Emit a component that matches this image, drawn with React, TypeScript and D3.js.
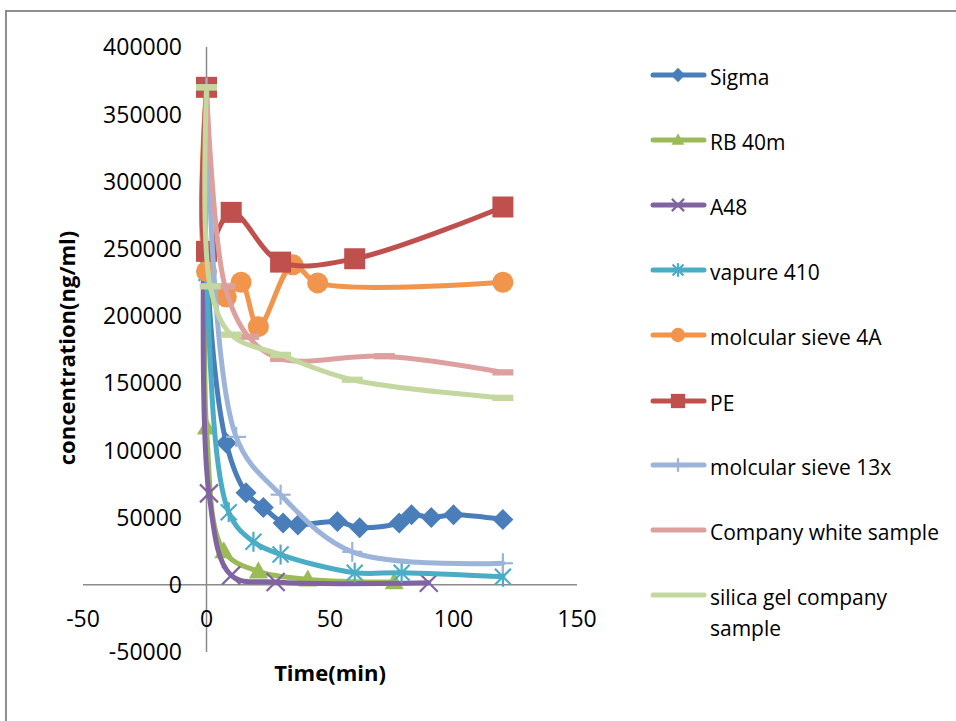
import React from "react";
import * as d3 from "d3";

// Sample names shown in the legend, in drawing order
const seriesNames = [
  "Sigma",
  "RB 40m",
  "A48",
  "vapure 410",
  "molcular sieve 4A",
  "PE",
  "molcular sieve 13x",
  "Company white sample",
  "silica gel company sample",
];

// Time (min) and concentration (ng/ml) for each sample
const sigmaTime = [0, 0, 8, 16, 23, 31, 37, 53, 62, 78, 83, 91, 100, 120];
const sigmaConc = [370000, 243000, 105500, 68500, 57500, 46000, 44500, 47000, 42500, 46000, 52000, 50000, 52000, 48500];

const rbTime = [0, 0, 7, 21, 41, 76];
const rbConc = [370000, 117000, 25000, 10000, 4000, 2000];

const a48Time = [0, 1, 10, 28, 90];
const a48Conc = [370000, 68000, 7000, 2000, 1500];

const vapureTime = [0, 0, 9, 19, 30, 60, 79, 120];
const vapureConc = [370000, 232000, 54000, 32000, 22500, 9000, 9000, 6000];

const sieve4aTime = [0, 0, 8, 14, 21, 35, 45, 120];
const sieve4aConc = [370000, 233000, 214000, 225000, 192000, 238000, 224500, 225000];

const peTime = [0, 0, 10, 30, 60, 120];
const peConc = [370000, 248000, 277000, 240000, 242500, 281000];

const sieve13xTime = [0, 12, 30, 59, 120];
const sieve13xConc = [370000, 110000, 67000, 24500, 16000];

const whiteTime = [0, 7.5, 17, 30, 72, 120];
const whiteConc = [370000, 222000, 184500, 168000, 170000, 158000];

const silicaTime = [0, 1.5, 10, 30, 59, 120];
const silicaConc = [370000, 222000, 186000, 171000, 152500, 139000];

const xTicks = [-50, 0, 50, 100, 150];
const yTicks = [-50000, 0, 50000, 100000, 150000, 200000, 250000, 300000, 350000, 400000];

type MarkerKind = "diamond" | "triangle" | "x" | "asterisk" | "circle" | "square" | "plus" | "dash";

const seriesTimes = [sigmaTime, rbTime, a48Time, vapureTime, sieve4aTime, peTime, sieve13xTime, whiteTime, silicaTime];
const seriesConcs = [sigmaConc, rbConc, a48Conc, vapureConc, sieve4aConc, peConc, sieve13xConc, whiteConc, silicaConc];
const seriesColors = ["#4a7ebb", "#9bbb59", "#8064a2", "#4bacc6", "#f0954b", "#c0504d", "#9db4da", "#dea09e", "#c4d79e"];
const seriesMarkers: MarkerKind[] = ["diamond", "triangle", "x", "asterisk", "circle", "square", "plus", "dash", "dash"];
const markerSizes = [21, 19, 18, 20, 21, 21, 20, 21, 21];

const FONT = "'Open Sans', 'Noto Sans', sans-serif";

function Marker({ kind, x, y, size, color }: { kind: MarkerKind; x: number; y: number; size: number; color: string }) {
  const h = size / 2;
  switch (kind) {
    case "diamond":
      return <polygon points={`${x},${y - h} ${x + h},${y} ${x},${y + h} ${x - h},${y}`} fill={color} />;
    case "triangle":
      return <polygon points={`${x},${y - h * 1.05} ${x + h},${y + h * 0.75} ${x - h},${y + h * 0.75}`} fill={color} />;
    case "circle":
      return <circle cx={x} cy={y} r={h} fill={color} />;
    case "square":
      return <rect x={x - h} y={y - h} width={size} height={size} fill={color} />;
    case "dash":
      return <rect x={x - h} y={y - size * 0.15} width={size} height={size * 0.3} fill={color} />;
    case "x":
      return (
        <g stroke={color} strokeWidth={2.2}>
          <line x1={x - h} y1={y - h} x2={x + h} y2={y + h} />
          <line x1={x - h} y1={y + h} x2={x + h} y2={y - h} />
        </g>
      );
    case "asterisk":
      return (
        <g stroke={color} strokeWidth={2.2}>
          <line x1={x - h * 0.8} y1={y - h * 0.8} x2={x + h * 0.8} y2={y + h * 0.8} />
          <line x1={x - h * 0.8} y1={y + h * 0.8} x2={x + h * 0.8} y2={y - h * 0.8} />
          <line x1={x} y1={y - h} x2={x} y2={y + h} />
        </g>
      );
    case "plus":
      return (
        <g stroke={color} strokeWidth={2.2}>
          <line x1={x - h} y1={y} x2={x + h} y2={y} />
          <line x1={x} y1={y - h} x2={x} y2={y + h} />
        </g>
      );
  }
  return null;
}

export default function App() {
  const width = 956;
  const height = 721;

  const xScale = d3.scaleLinear().domain([-50, 150]).range([83, 577]);
  const yScale = d3.scaleLinear().domain([-50000, 400000]).range([652, 47]);

  const line = d3
    .line<[number, number]>()
    .x((d) => xScale(d[0]))
    .y((d) => yScale(d[1]))
    .curve(d3.curveCatmullRom.alpha(0.5));

  const legendY = [75, 140, 205, 270, 335, 401, 465, 530, 595];

  return (
    <div style={{ position: "absolute", left: 0, top: 0 }}>
      <svg width={width} height={height} style={{ display: "block", background: "#ffffff" }}>
        {/* chart frame */}
        <path d={`M6,${height + 5} L6,11 L${width + 5},11`} fill="none" stroke="#8e8e8e" strokeWidth={2} />

        {/* axes */}
        <line x1={xScale(0)} x2={xScale(0)} y1={yScale(400000)} y2={yScale(-50000)} stroke="#8a8a8a" strokeWidth={1.5} />
        <line x1={xScale(-50)} x2={xScale(150)} y1={yScale(0)} y2={yScale(0)} stroke="#8a8a8a" strokeWidth={1.5} />

        {/* y tick labels */}
        {yTicks.map((t) => (
          <text
            key={`y${t}`}
            x={182}
            y={yScale(t)}
            dy="0.36em"
            textAnchor="end"
            fontFamily={FONT}
            fontSize={23}
            fill="#000"
          >
            {t}
          </text>
        ))}

        {/* x tick labels */}
        {xTicks.map((t) => (
          <text
            key={`x${t}`}
            x={xScale(t)}
            y={619}
            dy="0.36em"
            textAnchor="middle"
            fontFamily={FONT}
            fontSize={23}
            fill="#000"
          >
            {t}
          </text>
        ))}

        {/* axis titles */}
        <text
          transform={`translate(67,348) rotate(-90)`}
          textAnchor="middle"
          dy="0.36em"
          fontFamily={FONT}
          fontSize={22}
          fontWeight="bold"
          fill="#000"
        >
          concentration(ng/ml)
        </text>
        <text x={330} y={673} dy="0.36em" textAnchor="middle" fontFamily={FONT} fontSize={22} fontWeight="bold" fill="#000">
          Time(min)
        </text>

        {/* series */}
        {seriesNames.map((name, i) => {
          const pts: [number, number][] = seriesTimes[i].map((t, j) => [t, seriesConcs[i][j]]);
          return (
            <g key={name}>
              <path
                d={line(pts) || ""}
                fill="none"
                stroke={seriesColors[i]}
                strokeWidth={5}
                strokeLinejoin="round"
                strokeLinecap="round"
              />
              {pts.map((p, j) => (
                <Marker
                  key={j}
                  kind={seriesMarkers[i]}
                  x={xScale(p[0])}
                  y={yScale(p[1])}
                  size={markerSizes[i]}
                  color={seriesColors[i]}
                />
              ))}
            </g>
          );
        })}

        {/* legend */}
        {seriesNames.map((name, i) => {
          const y = legendY[i];
          const lines = name === "silica gel company sample" ? ["silica gel company", "sample"] : [name];
          return (
            <g key={`lg${name}`}>
              <line x1={653} x2={704} y1={y} y2={y} stroke={seriesColors[i]} strokeWidth={5} strokeLinecap="round" />
              {seriesMarkers[i] !== "dash" && (
                <Marker kind={seriesMarkers[i]} x={678} y={y} size={markerSizes[i] * 0.68} color={seriesColors[i]} />
              )}
              {lines.map((l, k) => (
                <text
                  key={k}
                  x={710}
                  y={y + 2 + k * 31}
                  dy="0.36em"
                  fontFamily={FONT}
                  fontSize={21}
                  fill="#000"
                >
                  {l}
                </text>
              ))}
            </g>
          );
        })}
      </svg>
    </div>
  );
}
